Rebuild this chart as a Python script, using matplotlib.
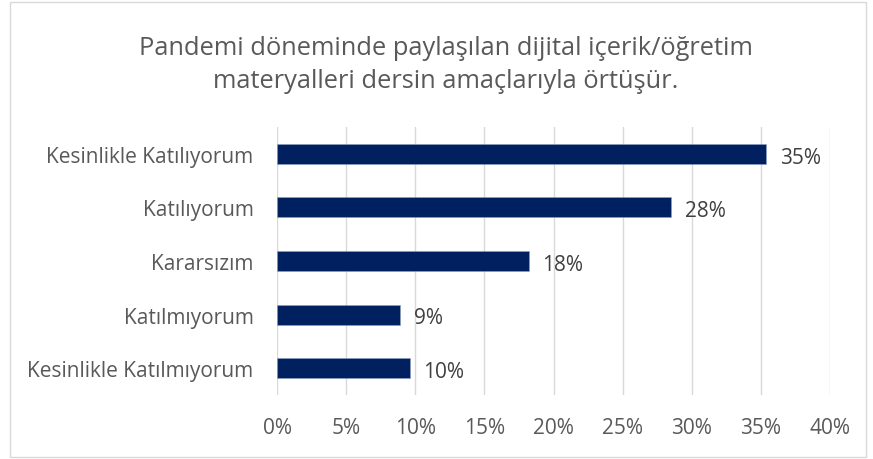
import matplotlib
matplotlib.use('Agg')
import matplotlib.pyplot as plt
from matplotlib.patches import Rectangle

# answer categories, top to bottom
categories = ['Kesinlikle Katılıyorum', 'Katılıyorum', 'Kararsızım',
              'Katılmıyorum', 'Kesinlikle Katılmıyorum']
values = [35.4, 28.5, 18.2, 8.9, 9.6]
labels = ['35%', '28%', '18%', '9%', '10%']
xticks = [0, 5, 10, 15, 20, 25, 30, 35, 40]

title = 'Pandemi döneminde paylaşılan dijital içerik/öğretim\nmateryalleri dersin amaçlarıyla örtüşür.'

plt.rcParams['font.family'] = ['Open Sans', 'DejaVu Sans']
grey = '#595959'
navy = '#002060'

fig = plt.figure(figsize=(8.73, 4.60), dpi=100)
fig.patches.append(Rectangle((10/873, 2/460), 856/873, 455/460, transform=fig.transFigure,
                             fill=False, edgecolor='#d9d9d9', linewidth=1))

ax = fig.add_axes([277/873, 1 - 396/460, 553/873, 268/460])
ypos = list(range(len(categories)))[::-1]
ax.barh(ypos, values, height=0.37, color=navy, edgecolor='#8ea0c0', linewidth=0.4, zorder=3)
for y, v, lab in zip(ypos, values, labels):
    ax.text(v + 1.0, y - 0.06, lab, va='center', ha='left', fontsize=15, color='#404040')

ax.set_xlim(0, 40)
ax.set_ylim(-0.5, len(categories) - 0.5)
ax.set_xticks(xticks)
ax.set_xticklabels([f'{t}%' for t in xticks])
ax.set_yticks(ypos)
ax.set_yticklabels(categories)
ax.tick_params(axis='both', length=0, labelsize=15, colors=grey)
ax.tick_params(axis='x', pad=16)
ax.tick_params(axis='y', pad=17)
ax.grid(axis='x', color='#d9d9d9', linewidth=1, zorder=0)
for s in ax.spines.values():
    s.set_visible(False)

fig.text(446/873, 1 - 65/460, title, ha='center', va='center', fontsize=18.3, color=grey,
         linespacing=1.45)

plt.savefig('out.png', dpi=100)
